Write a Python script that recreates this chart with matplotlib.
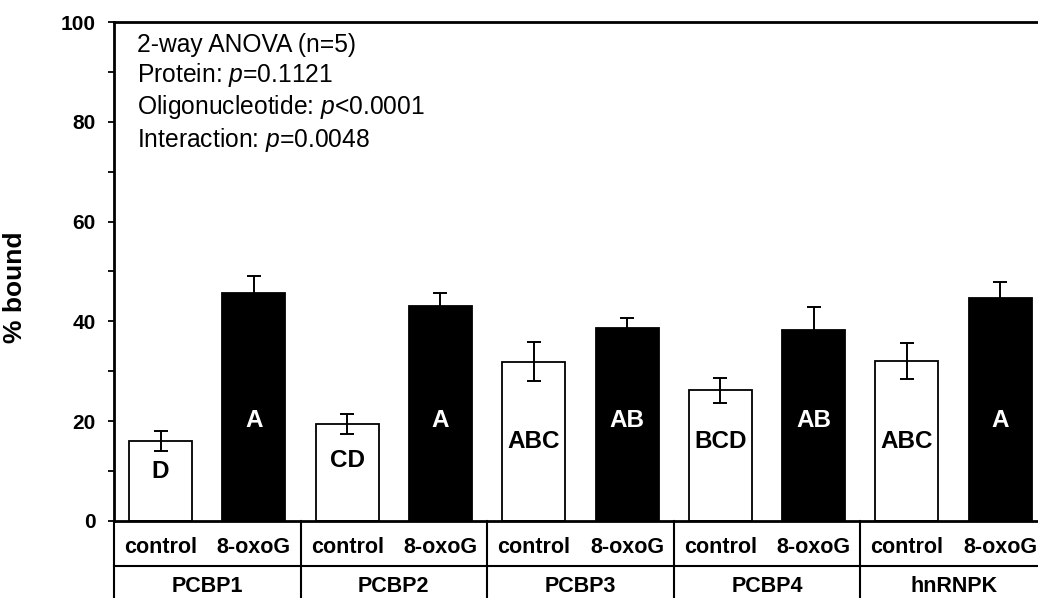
import numpy as np
import matplotlib
matplotlib.use('Agg')
import matplotlib.pyplot as plt
import matplotlib.transforms as mtrans

plt.rcParams['font.family'] = ['Liberation Sans', 'DejaVu Sans']
plt.rcParams['mathtext.fontset'] = 'custom'
plt.rcParams['mathtext.rm'] = 'Liberation Sans'
plt.rcParams['mathtext.it'] = 'Liberation Sans:italic'

proteins = ['PCBP1', 'PCBP2', 'PCBP3', 'PCBP4', 'hnRNPK']
conditions = ['control', '8-oxoG']
ctrl = np.array([16.1, 19.4, 31.9, 26.2, 32.0])
ctrl_err = np.array([2.0, 2.0, 3.9, 2.5, 3.6])
oxo = np.array([45.7, 43.1, 38.6, 38.3, 44.6])
oxo_err = np.array([3.4, 2.6, 2.1, 4.5, 3.2])
ctrl_letters = ['D', 'CD', 'ABC', 'BCD', 'ABC']
oxo_letters = ['A', 'A', 'AB', 'AB', 'A']
stats = ['2-way ANOVA (n=5)', 'Protein: $p$=0.1121',
         'Oligonucleotide: $p$<0.0001', 'Interaction: $p$=0.0048']

fig = plt.figure(figsize=(10.38, 5.98), dpi=100)
ax = fig.add_axes([0.1098, 0.1288, 0.8902, 0.8344])

xc = np.arange(len(proteins)) * 2
xo = xc + 1
w = 0.675
ax.bar(xc, ctrl, w, color='white', edgecolor='black', linewidth=1.3, zorder=2)
ax.bar(xo, oxo, w, color='black', edgecolor='black', linewidth=1.3, zorder=2)
ax.errorbar(xc, ctrl, yerr=ctrl_err, fmt='none', ecolor='black', elinewidth=1.4,
            capsize=4.7, capthick=1.4, zorder=3)
ax.errorbar(xo, oxo, yerr=oxo_err, fmt='none', ecolor='black', elinewidth=1.4,
            capsize=4.7, capthick=1.4, zorder=1)

lab_y = np.minimum(ctrl * 0.62, 16)
for i in range(len(proteins)):
    ax.text(xc[i], lab_y[i], ctrl_letters[i], ha='center', va='center',
            fontsize=17.5, fontweight='bold', color='black', zorder=4)
    ax.text(xo[i], 20.2, oxo_letters[i], ha='center', va='center',
            fontsize=17.5, fontweight='bold', color='white', zorder=4)

ax.set_xlim(-0.5, 9.405)
ax.set_ylim(0, 100)
ax.set_yticks([0, 20, 40, 60, 80, 100])
ax.set_yticks([10, 30, 50, 70, 90], minor=True)
ax.tick_params(axis='y', which='both', direction='out', length=4.3, width=1.3,
               labelsize=15, pad=9)
for t in ax.get_yticklabels():
    t.set_fontweight('bold')
ax.set_xticks([])
ax.spines['right'].set_visible(False)
for s in ['left', 'bottom', 'top']:
    ax.spines[s].set_linewidth(2.0)
ax.set_ylabel('% bound', fontsize=19, fontweight='bold')
ax.yaxis.set_label_coords(-0.094, 0.469)

ax.text(0.025, 0.978, '\n'.join(stats), transform=ax.transAxes, ha='left',
        va='top', fontsize=17.7, linespacing=1.2)

# table under the axis
tr = mtrans.blended_transform_factory(ax.transData, ax.transAxes)
row_y = -0.0902
bot_y = -0.16
ax.plot([-0.5, 9.405], [row_y, row_y], color='black', lw=1.5, transform=tr, clip_on=False)
for xs in [-0.5, 1.5, 3.5, 5.5, 7.5]:
    ax.plot([xs, xs], [0, bot_y], color='black', lw=1.5, transform=tr, clip_on=False)
for i, p in enumerate(proteins):
    ax.text(xc[i], -0.054, conditions[0], transform=tr, ha='center', va='center',
            fontsize=15.5, fontweight='bold')
    ax.text(xo[i], -0.054, conditions[1], transform=tr, ha='center', va='center',
            fontsize=15.5, fontweight='bold')
    ax.text(xc[i] + 0.5, -0.132, p, transform=tr, ha='center', va='center',
            fontsize=15.5, fontweight='bold')

fig.savefig('out.png', dpi=100)
